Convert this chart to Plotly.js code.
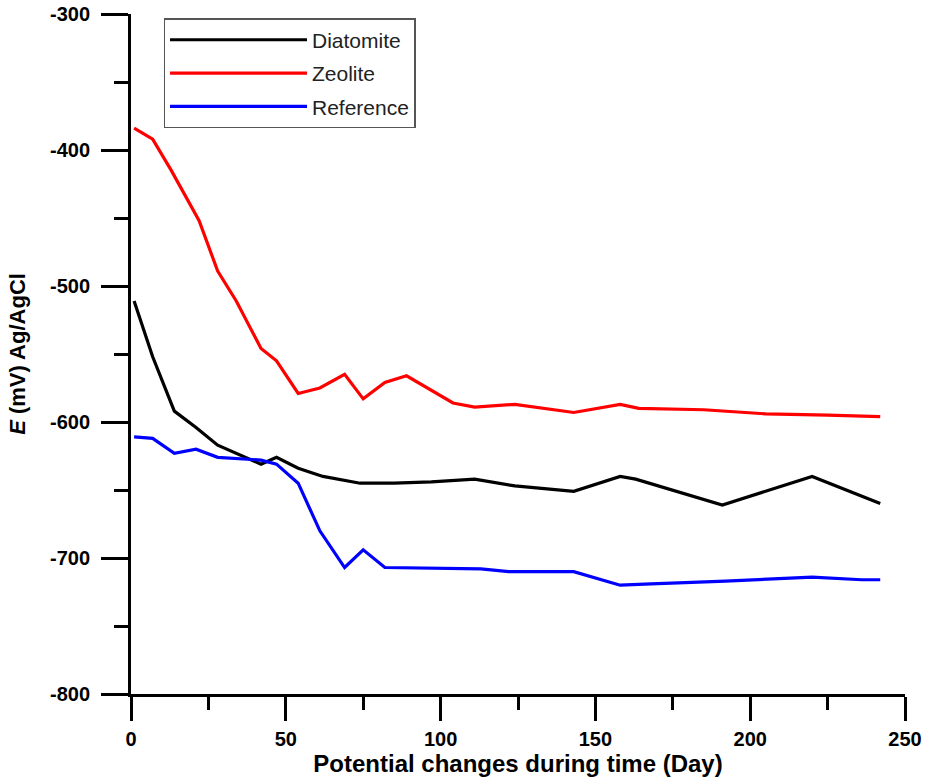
<!DOCTYPE html>
<html>
<head>
<meta charset="utf-8">
<script src="https://cdn.plot.ly/plotly-3.0.1.min.js"></script>
<style>html,body{margin:0;padding:0;background:#fff;}#chart{width:929px;height:780px;}</style>
</head>
<body>
<div id="chart"></div>
<script>
// Diatomite
var diatomiteDays = [1, 7, 14, 21, 28, 42, 47, 54, 62, 74, 85, 97, 111, 124, 143, 158, 163, 191, 220, 242];
var diatomiteE   = [-511, -552, -592, -604, -617, -631, -626, -634, -640, -645, -645, -644, -642, -647, -651, -640, -642, -661, -640, -660];
// Zeolite
var zeoliteDays = [1, 7, 13, 20, 22, 28, 34, 42, 47, 54, 61, 69, 75, 82, 89, 104, 111, 124, 143, 158, 164, 185, 205, 225, 242];
var zeoliteE    = [-384, -392, -415, -443, -452, -489, -511, -546, -555, -579, -575, -565, -583, -571, -566, -586, -589, -587, -593, -587, -590, -591, -594, -595, -596];
// Reference
var referenceDays = [1, 7, 14, 21, 28, 42, 47, 54, 61, 69, 75, 82, 113, 122, 143, 158, 168, 192, 220, 236, 242];
var referenceE    = [-611, -612, -623, -620, -626, -628, -631, -645, -680, -707, -694, -707, -708, -710, -710, -720, -719, -717, -714, -716, -716];

var xTicks = [0, 50, 100, 150, 200, 250];
var yTicks = [-800, -700, -600, -500, -400, -300];

var traces = [
  {x: diatomiteDays, y: diatomiteE, name: 'Diatomite', mode: 'lines', legendgroup: 'a',
   line: {color: '#000000', width: 3.2}},
  {x: zeoliteDays, y: zeoliteE, name: 'Zeolite', mode: 'lines', legendgroup: 'b',
   line: {color: '#ff0000', width: 3.2}},
  {x: referenceDays, y: referenceE, name: 'Reference', mode: 'lines', legendgroup: 'c',
   line: {color: '#0000ff', width: 3.2}}
];

var tickFont = {family: 'Liberation Sans, Arial, sans-serif', size: 20, color: '#000', weight: 'bold'};

var layout = {
  width: 929, height: 780,
  margin: {l: 131, r: 24, t: 14, b: 86},
  paper_bgcolor: '#fff', plot_bgcolor: '#fff',
  showlegend: true,
  legend: {
    x: 0.042, y: 0.994, xanchor: 'left', yanchor: 'top',
    bgcolor: '#fff', bordercolor: '#555', borderwidth: 1.5,
    font: {family: 'Liberation Sans, Arial, sans-serif', size: 21, color: '#222'},
    itemwidth: 137, traceorder: 'grouped', tracegroupgap: 3
  },
  xaxis: {
    range: [0, 250], tickvals: xTicks, ticktext: xTicks.map(String),
    showgrid: false, zeroline: false, showline: true, linecolor: '#000', linewidth: 3,
    ticks: 'outside', ticklen: 24, tickwidth: 3, tickcolor: '#000',
    minor: {dtick: 25, ticks: 'outside', ticklen: 13, tickwidth: 3, tickcolor: '#000', showgrid: false},
    tickfont: tickFont, ticklabelstandoff: 1,
    title: {text: '<b>Potential changes during time (Day)</b>', font: {family: 'Liberation Sans, Arial, sans-serif', size: 24, color: '#000'}, standoff: 0},
    automargin: false
  },
  yaxis: {
    range: [-800, -300], tickvals: yTicks, ticktext: yTicks.map(String),
    showgrid: false, zeroline: false, showline: true, linecolor: '#000', linewidth: 3,
    ticks: 'outside', ticklen: 27, tickwidth: 3, tickcolor: '#000',
    minor: {dtick: 50, ticks: 'outside', ticklen: 14, tickwidth: 3, tickcolor: '#000', showgrid: false},
    tickfont: tickFont, ticklabelstandoff: 7,
    title: {text: '<b><i>E</i> (mV) Ag/AgCl</b>', font: {family: 'Liberation Sans, Arial, sans-serif', size: 22, color: '#000'}, standoff: 19},
    automargin: false
  }
};

Plotly.newPlot('chart', traces, layout, {displayModeBar: false, staticPlot: true});
</script>
</body>
</html>
